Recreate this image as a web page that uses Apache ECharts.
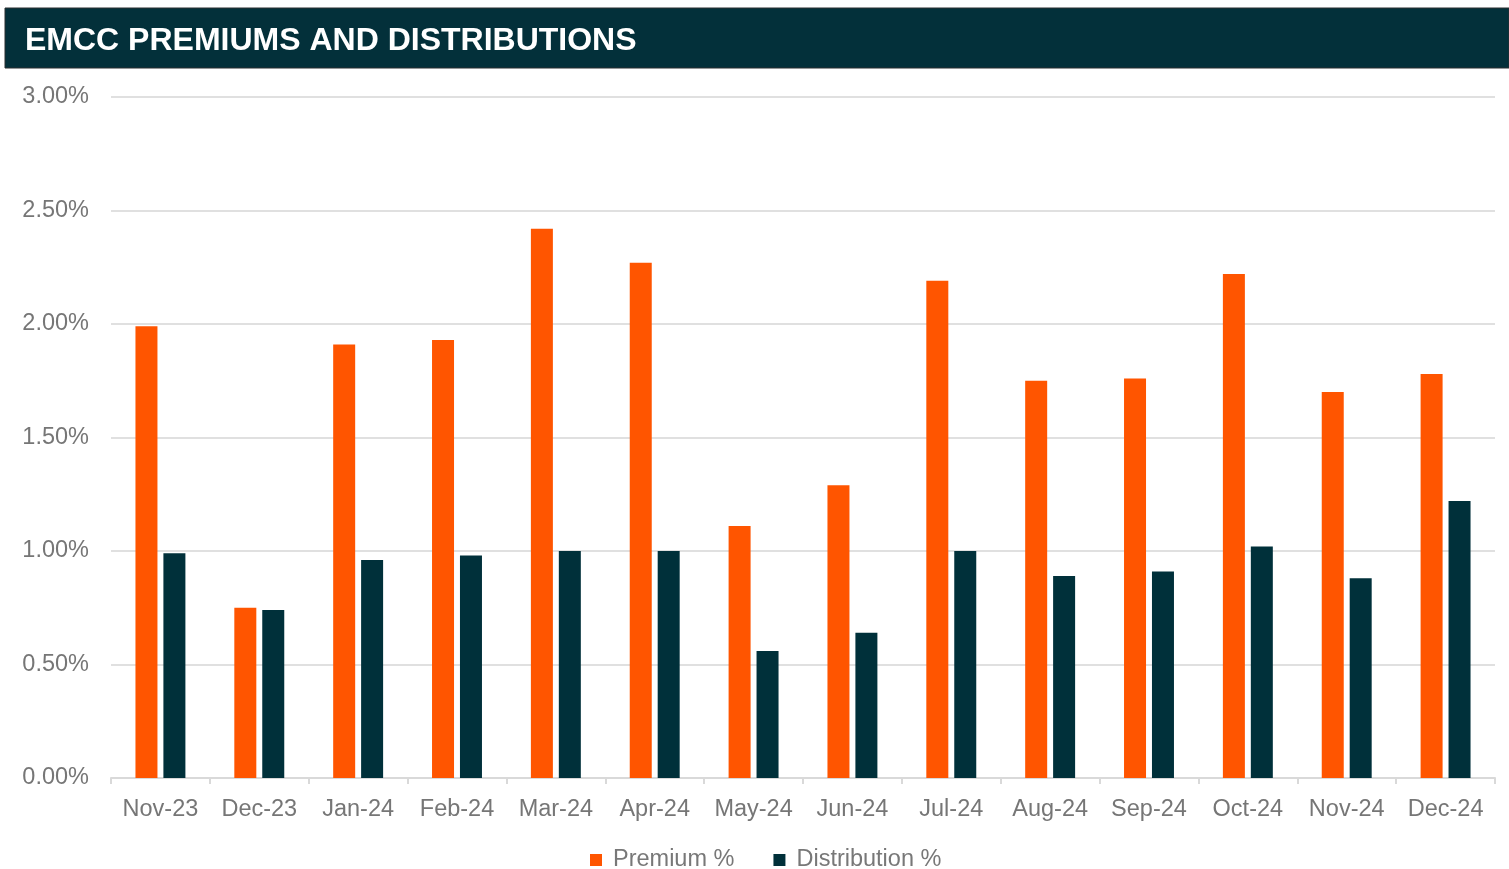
<!DOCTYPE html>
<html>
<head>
<meta charset="utf-8">
<script src="https://cdn.jsdelivr.net/npm/echarts@6/dist/echarts.min.js"></script>
<style>
html,body{margin:0;padding:0;background:#fff;}
#chart{width:1509px;height:869px;}
</style>
</head>
<body>
<div id="chart"></div>
<script>
const titleText = 'EMCC PREMIUMS AND DISTRIBUTIONS';
const categories = ['Nov-23','Dec-23','Jan-24','Feb-24','Mar-24','Apr-24','May-24','Jun-24','Jul-24','Aug-24','Sep-24','Oct-24','Nov-24','Dec-24'];
const premiumPct = [1.99,0.75,1.91,1.93,2.42,2.27,1.11,1.29,2.19,1.75,1.76,2.22,1.70,1.78];
const distributionPct = [0.99,0.74,0.96,0.98,1.00,1.00,0.56,0.64,1.00,0.89,0.91,1.02,0.88,1.22];
const seriesNames = ['Premium %','Distribution %'];

const chart = echarts.init(document.getElementById('chart'));
const font = '"Liberation Sans", Arial, sans-serif';
chart.setOption({
  animation: false,
  textStyle: {fontFamily: font},
  graphic: [{
    type: 'rect',
    shape: {x: 5, y: 8, width: 1504, height: 60},
    style: {fill: '#03303a', stroke: '#2a2f30', lineWidth: 1}
  }],
  title: {
    text: titleText,
    left: 25,
    top: 25,
    padding: 0,
    textStyle: {color: '#ffffff', fontSize: 32, fontWeight: 'bold', fontFamily: font}
  },
  legend: {
    data: seriesNames,
    left: 585,
    top: 843,
    icon: 'rect',
    itemWidth: 12,
    itemHeight: 12,
    itemGap: 39,
    textStyle: {color: '#787878', fontSize: 23.5, fontFamily: font, padding: [0,0,0,6]}
  },
  grid: {left: 111, right: 14, top: 97, bottom: 91, containLabel: false},
  xAxis: {
    type: 'category',
    data: categories,
    axisLine: {lineStyle: {color: '#d9d9d9', width: 2}},
    axisTick: {show: true, length: 6, lineStyle: {color: '#d9d9d9', width: 2}},
    axisLabel: {color: '#767676', fontSize: 23.5, margin: 20, interval: 0, fontFamily: font}
  },
  yAxis: {
    type: 'value',
    min: 0,
    max: 3,
    interval: 0.5,
    axisLine: {show: false},
    axisTick: {show: false},
    splitLine: {lineStyle: {color: '#e0e0e0', width: 2}},
    axisLabel: {color: '#767676', fontSize: 23.5, margin: 22, fontFamily: font,
      formatter: v => v.toFixed(2) + '%'}
  },
  series: [
    {name: seriesNames[0], type: 'bar', data: premiumPct, barWidth: 22, barGap: '27%',
     itemStyle: {color: '#ff5500'}},
    {name: seriesNames[1], type: 'bar', data: distributionPct, barWidth: 22,
     itemStyle: {color: '#00303a'}}
  ]
});
</script>
</body>
</html>
